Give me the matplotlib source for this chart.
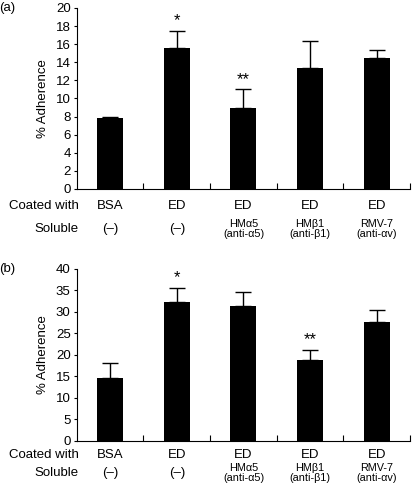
import numpy as np
import matplotlib
matplotlib.use('Agg')
import matplotlib.pyplot as plt
import matplotlib.transforms as mtransforms

plt.rcParams['font.family'] = ['Liberation Sans', 'DejaVu Sans']

coated = ['BSA', 'ED', 'ED', 'ED', 'ED']
soluble = ['(–)', '(–)', 'HMα5\n(anti-α5)', 'HMβ1\n(anti-β1)', 'RMV-7\n(anti-αv)']

# panel (a)
mean_a = [7.8, 15.6, 8.9, 13.4, 14.5]
err_a = [0.2, 1.9, 2.1, 2.9, 0.9]
star_a = ['', '*', '**', '', '']

# panel (b)
mean_b = [14.6, 32.3, 31.3, 18.8, 27.6]
err_b = [3.6, 3.2, 3.3, 2.4, 2.8]
star_b = ['', '*', '', '**', '']

fig = plt.figure(figsize=(4.13, 4.96), dpi=100)
ax_a = fig.add_axes([0.186, 0.619, 0.807, 0.365])
ax_b = fig.add_axes([0.186, 0.111, 0.807, 0.347])


def panel(ax, mean, err, stars, ymax, ystep, coat_y, sol_y, lab):
    x = np.arange(len(mean))
    ax.bar(x, mean, width=0.39, color='black',
           yerr=[np.zeros(len(err)), err],
           error_kw=dict(ecolor='black', elinewidth=1, capsize=5.5, capthick=1))
    ax.set_xlim(-0.5, len(mean) - 0.5)
    ax.set_ylim(0, ymax)
    ax.set_yticks(np.arange(0, ymax + 0.01, ystep))
    ax.set_xticks(np.arange(0.5, len(mean), 1.0))
    ax.set_xticklabels([])
    ax.tick_params(axis='x', direction='in', length=4, width=0.8)
    ax.tick_params(axis='y', direction='out', length=2.5, width=0.8, labelsize=9.5, pad=2)
    for s in ['top', 'right']:
        ax.spines[s].set_visible(False)
    for s in ['left', 'bottom']:
        ax.spines[s].set_linewidth(0.8)
    ax.set_ylabel('% Adherence', fontsize=9.5, labelpad=5)
    for i, s in enumerate(stars):
        if s:
            ax.text(i, mean[i] + err[i] + ymax * 0.015, s, ha='center', va='bottom', fontsize=12)
    tr = mtransforms.blended_transform_factory(ax.transData, ax.transAxes)
    for i in range(len(mean)):
        ax.text(i, coat_y, coated[i], ha='center', va='center', fontsize=9.5, transform=tr)
        fs = 9.5 if '\n' not in soluble[i] else 7.8
        ax.text(i, sol_y, soluble[i], ha='center', va='center', fontsize=fs,
                linespacing=1.05, transform=tr)
    ax.text(0.006, coat_y, 'Coated with', ha='right', va='center', fontsize=9.5,
            transform=ax.transAxes)
    ax.text(0.006, sol_y, 'Soluble', ha='right', va='center', fontsize=9.5,
            transform=ax.transAxes)
    ax.text(-0.186 * 0.993 / 0.807 - 0.005, 1.0, lab, ha='left', va='center', fontsize=9.5,
            transform=ax.transAxes)


panel(ax_a, mean_a, err_a, star_a, 20, 2, -0.094, -0.22, '(a)')
panel(ax_b, mean_b, err_b, star_b, 40, 5, -0.081, -0.186, '(b)')

fig.savefig('out.png', dpi=100)
